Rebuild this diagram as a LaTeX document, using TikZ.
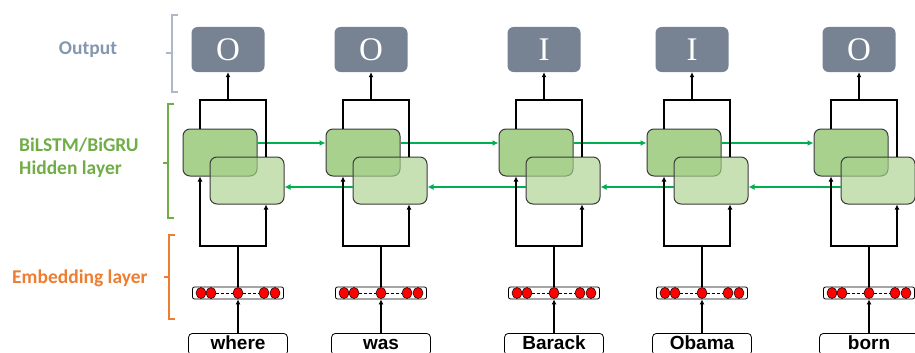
\documentclass[tikz,border=0pt]{standalone}
\usepackage{fontspec}
\setmainfont{Liberation Serif}
\setsansfont{Liberation Sans}
\newfontfamily\calib{Carlito}
\usetikzlibrary{arrows.meta,positioning,shapes.geometric}
\definecolor{outgray}{HTML}{778392}
\definecolor{outlbl}{HTML}{8497B0}
\definecolor{outbrk}{HTML}{ADB9CA}
\definecolor{hidfill}{HTML}{A9D18E}
\definecolor{hidlbl}{HTML}{70AD47}
\definecolor{arrgreen}{HTML}{00B050}
\definecolor{emblbl}{HTML}{ED7D31}
\definecolor{boxline}{HTML}{3A3A3A}
\tikzset{
  outb/.style={fill=outgray, rounded corners=6pt, minimum width=73pt, minimum height=45pt, inner sep=0pt, text=white, font=\rmfamily\fontsize{33}{33}\selectfont},
  fwdb/.style={draw=boxline, line width=1pt, fill=hidfill, rounded corners=7pt, minimum width=74pt, minimum height=47pt},
  bwdb/.style={fwdb, fill opacity=0.65},
  embb/.style={draw, line width=0.8pt, fill=white, rounded corners=2pt, minimum width=91pt, minimum height=12pt, inner sep=0pt},
  wordb/.style={draw, line width=0.8pt, rounded corners=4pt, anchor=north, minimum width=99pt, text height=14pt, text depth=4pt, inner xsep=0pt, inner ysep=2pt, font=\sffamily\bfseries\fontsize{19}{19}\selectfont},
  edot/.style={draw, line width=0.5pt, fill=red, ellipse, minimum width=10pt, minimum height=11pt, inner sep=0pt},
  arr/.style={-{Latex[length=5pt,width=5pt]}, line width=1.6pt},
  garr/.style={-{Latex[length=6pt,width=6pt]}, line width=1.7pt, draw=arrgreen},
  ln/.style={line width=1.6pt},
  brk/.style={line width=1.3pt},
  lbl/.style={font=\calib\bfseries\fontsize{19.5}{23}\selectfont, align=left, inner sep=0pt}
}
\begin{document}
\begin{tikzpicture}[x=1pt, y=-1pt]
  \useasboundingbox (0,0) rectangle (915,353);
  \clip (0,0) rectangle (915,353);
  % layer labels and brackets
  \node[lbl, text=outlbl] (lout) at (88,50) {Output};
  \node[lbl, text=hidlbl, anchor=west] (lhid) at (19,158) {BiLSTM/BiGRU\\Hidden layer};
  \node[lbl, text=emblbl, anchor=west] (lemb) at (12,278) {Embedding layer};
  \draw[brk, draw=outbrk] (178,15) -- (172,15) -- (172,92) -- (178,92) (172,53) -- (166,53);
  \draw[brk, draw=hidlbl] (174,104) -- (168,104) -- (168,218) -- (174,218) (168,163) -- (163,163);
  \draw[brk, draw=emblbl] (175,235) -- (169,235) -- (169,319) -- (175,319) (169,277) -- (164,277);
  % one column per word
  \foreach \i/\L/\w/\t in {1/183/where/O, 2/326/was/O, 3/499/Barack/I, 4/647/Obama/I, 5/814/born/O} {
    \node[fwdb] (fwd\i) at (\L+37,152.5) {};
    \node[bwdb] (bwd\i) at (\L+64,180.5) {};
    \node[outb] (out\i) at (\L+45,49.5) {\t};
    \node[embb] (emb\i) at (\L+55,293) {};
    \node[wordb] (word\i) at (\L+55,333) {\w};
    \foreach \dx [count=\k] in {-37,-27,0,26,37}
      \node[edot] (d\i\k) at (\L+55+\dx,293) {};
    \draw[line width=1pt, dash pattern=on 3pt off 2pt] (d\i2) -- (d\i3) (d\i3) -- (d\i4);
    \coordinate (lo\i) at (\L+55,246);
    \coordinate (hi\i) at (\L+45,100);
  }
  \foreach \i/\j in {1/2,2/3,3/4,4/5} {
    \draw[garr] ([yshift=9.5pt]fwd\i.east) -- ([yshift=9.5pt]fwd\j.west);
    \draw[garr] ([yshift=-6.5pt]bwd\j.west) -- ([yshift=-6.5pt]bwd\i.east);
  }
  \foreach \i in {1,...,5} {
    \draw[arr] (word\i) -- (emb\i);
    \draw[ln] (emb\i) -- (lo\i);
    \draw[arr] (lo\i) -| ([xshift=-20pt]fwd\i.south);
    \draw[arr] (lo\i) -| ([xshift=19pt]bwd\i.south);
    \draw[ln] ([xshift=-20pt]fwd\i.north) |- (hi\i) -| ([xshift=19pt]bwd\i.north);
    \draw[arr] (hi\i) -- (out\i);
  }
\end{tikzpicture}
\end{document}
